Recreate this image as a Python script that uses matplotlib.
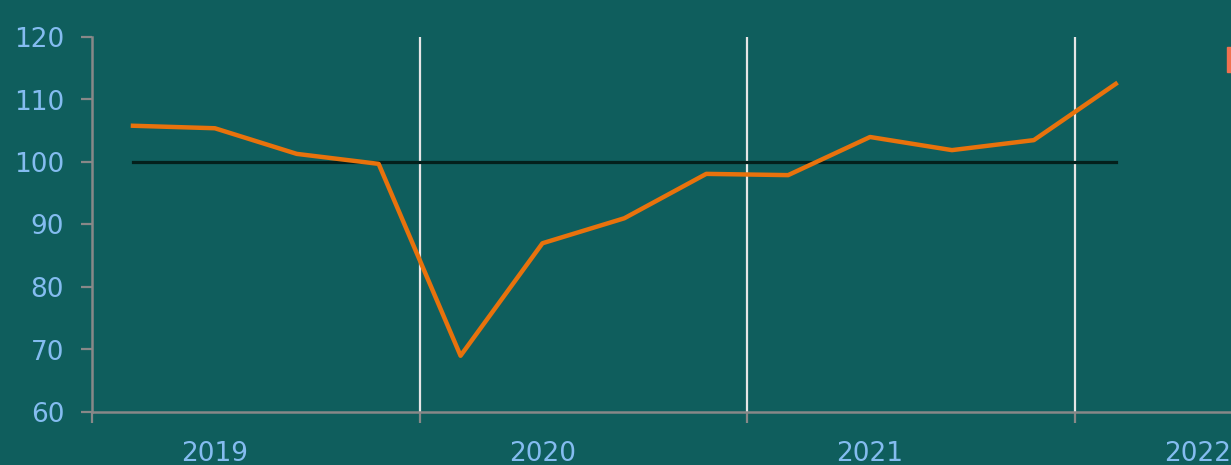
import numpy as np
import matplotlib.pyplot as plt
from matplotlib.patches import Rectangle

# quarterly index, Q1 2019 .. Q1 2022
values = [105.8, 105.4, 101.3, 99.7, 69.0, 87.0, 91.0, 98.1, 97.9, 104.0, 101.9, 103.5, 112.5]
baseline = [100] * len(values)
years = ['2019', '2020', '2021', '2022']

bg = '#0f5e5d'
x = np.arange(len(values))

fig = plt.figure(figsize=(12.31, 4.65), dpi=100, facecolor=bg)
ax = fig.add_axes([92 / 1231, 53 / 465, 1 - 92 / 1231, 375 / 465])
ax.set_facecolor(bg)

ax.plot(x, baseline, color='#04201c', lw=2.3, zorder=3)
ax.plot(x, values, color='#e8720c', lw=3.2, zorder=4, solid_joinstyle='round')

ax.set_xlim(-0.5, -0.5 + (1231 - 92) / 81.9)
ax.set_ylim(60, 120)

# year boundaries
bounds = [-0.5 + 4 * i for i in range(len(years))]
ax.set_xticks(bounds)
ax.set_xticklabels([])
ax.set_xticks([1 + 4 * i for i in range(len(years))], minor=True)
ax.set_xticklabels(years, minor=True)
for b in bounds[1:]:
    ax.axvline(b, color='#e6e6e6', lw=1.6, zorder=2)

ax.set_yticks(np.arange(60, 121, 10))
ax.tick_params(axis='y', colors='#888888', length=8, width=1.6, pad=12,
               labelcolor='#84bcf0', labelsize=19)
ax.tick_params(axis='x', which='major', colors='#888888', length=8, width=1.6)
ax.tick_params(axis='x', which='minor', length=0, pad=21,
               labelcolor='#84bcf0', labelsize=19)

for s in ['top', 'right']:
    ax.spines[s].set_visible(False)
for s in ['left', 'bottom']:
    ax.spines[s].set_color('#888888')
    ax.spines[s].set_linewidth(1.8)

# cut-off legend marker at right edge
fig.add_artist(Rectangle((1227 / 1231, 1 - 72 / 465), 10 / 1231, 25 / 465,
                         transform=fig.transFigure, color='#f07050', clip_on=False))

fig.savefig('out.png', dpi=100, facecolor=bg)
